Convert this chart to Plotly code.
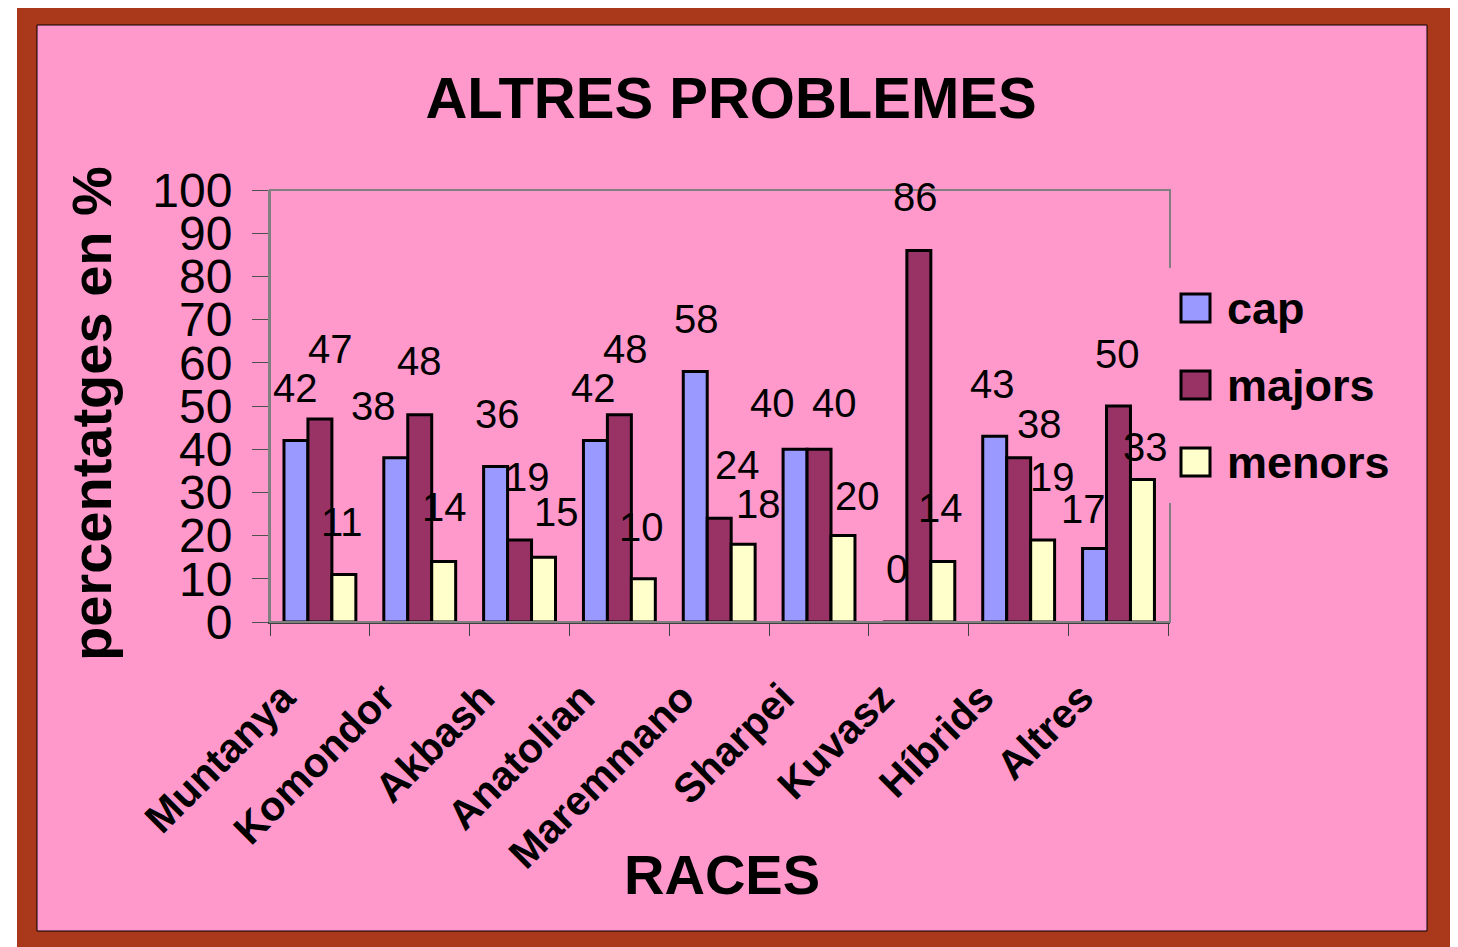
import plotly.graph_objects as go

# ---- data ----
categories = ["Muntanya", "Komondor", "Akbash", "Anatolian", "Maremmano",
              "Sharpei", "Kuvasz", "Híbrids", "Altres"]
series_names = ["cap", "majors", "menors"]
cap = [42, 38, 36, 42, 58, 40, 0, 43, 17]
majors = [47, 48, 19, 48, 24, 40, 86, 38, 50]
menors = [11, 14, 15, 10, 18, 20, 14, 19, 33]
y_ticks = [0, 10, 20, 30, 40, 50, 60, 70, 80, 90, 100]

series_values = [cap, majors, menors]
colors = ["#9999FF", "#993366", "#FFFFCC"]

# label nudges (pixels) reproducing the original hand-placed data labels
label_dx = [[0, -22, 2, -2, 1, -23, 2, -2, -11],
            [11, 0, 8, 6, 18, 15, -3, 21, -1],
            [-2, 1, 13, -2, 15, 14, -2, 10, 3]]
label_dy = [[53, 52, 52, 53, 52, 46, 53, 52, 40],
            [70, 54, 63, 66, 53, 46, 53, 34, 52],
            [52, 55, 45, 52, 40, 40, 54, 63, 32]]

# page offset (browser body margin) compensation
OFF = 8
W, H = 1458 - OFF, 947 - OFF
L, R, T, B = 270 - OFF, 1170 - OFF, 190 - OFF, 622 - OFF   # plot area in figure pixels


def px(x):
    """reference-image x pixel -> paper coordinate"""
    return (x - OFF - L) / (R - L)


def py(y):
    """reference-image y pixel -> paper coordinate"""
    return (B - (y - OFF)) / (B - T)


FONT = "Arial, Liberation Sans, sans-serif"

fig = go.Figure()
for name, vals, col in zip(series_names, series_values, colors):
    fig.add_trace(go.Bar(
        name=name, x=categories, y=vals,
        marker=dict(color=col, line=dict(color="black", width=3)),
        showlegend=False, hoverinfo="x+y+name",
    ))

# data labels
bar_px = 24
annotations = []
for i, vals in enumerate(series_values):
    for j, (c, v) in enumerate(zip(categories, vals)):
        annotations.append(dict(
            x=c, y=v, xref="x", yref="y", text=str(v), showarrow=False,
            xshift=(i - 1) * bar_px + label_dx[i][j], yshift=label_dy[i][j],
            yanchor="middle",
            font=dict(family=FONT, size=40, color="black"),
        ))

# axis titles
annotations.append(dict(
    x=px(722), y=py(874), xref="paper", yref="paper", text="<b>RACES</b>",
    showarrow=False, xanchor="center", yanchor="middle",
    font=dict(family=FONT, size=56, color="black"),
))
annotations.append(dict(
    x=px(91), y=py(414), xref="paper", yref="paper",
    text="<b>percentatges en %</b>", textangle=-90,
    showarrow=False, xanchor="center", yanchor="middle",
    font=dict(family=FONT, size=56, color="black"),
))

shapes = [
    # brown outer frame
    dict(type="rect", xref="paper", yref="paper", layer="below",
         x0=px(17), x1=px(1450), y0=py(960), y1=py(6),
         fillcolor="#A9391A", line=dict(width=0)),
    # pink chart area
    dict(type="rect", xref="paper", yref="paper", layer="below",
         x0=px(37), x1=px(1427), y0=py(931), y1=py(25),
         fillcolor="#FF99CC", line=dict(color="black", width=1)),
    # plot area border
    dict(type="rect", xref="x domain", yref="y domain", layer="above",
         x0=0, x1=1, y0=0, y1=1, line=dict(color="#808080", width=2)),
    # legend box
    dict(type="rect", xref="paper", yref="paper", layer="above",
         x0=px(1162), x1=px(1420), y0=py(503), y1=py(268),
         fillcolor="#FF99CC", line=dict(width=0)),
]

# manual legend (large symbols as in the original)
for i, (name, col) in enumerate(zip(series_names, colors)):
    cy = 308 + i * 77
    shapes.append(dict(type="rect", xref="paper", yref="paper", layer="above",
                       x0=px(1181), x1=px(1210), y0=py(cy + 14), y1=py(cy - 14),
                       fillcolor=col, line=dict(color="black", width=3)))
    annotations.append(dict(
        x=px(1225), y=py(cy), xref="paper", yref="paper", text=f"<b>{name}</b>",
        showarrow=False, xanchor="left", yanchor="middle",
        font=dict(family=FONT, size=45, color="black"),
    ))

fig.update_layout(
    width=W, height=H,
    margin=dict(l=L, r=W - R, t=T, b=H - B, pad=0, autoexpand=False),
    paper_bgcolor="white",
    plot_bgcolor="#C0C0C0",
    barmode="group", bargap=0.28, bargroupgap=0,
    title=dict(text="<b>ALTRES PROBLEMES</b>", x=px(731), xref="paper",
               y=1 - (98 - OFF) / H, yref="container",
               xanchor="center", yanchor="middle",
               font=dict(family=FONT, size=58, color="black")),
    showlegend=False,
    annotations=annotations,
    shapes=shapes,
    xaxis=dict(
        type="category", tickangle=-45, automargin=False,
        tickfont=dict(family=FONT, size=41, color="black", weight="bold"),
        ticks="outside", ticklen=12, tickcolor="#404040", tickwidth=1,
        tickson="boundaries",
        ticklabelshift=-37, ticklabelstandoff=33,
        showline=True, linecolor="#404040", linewidth=2,
        showgrid=False,
    ),
    yaxis=dict(
        range=[0, 100], tickvals=y_ticks, automargin=False,
        tickfont=dict(family=FONT, size=48, color="black"),
        ticks="outside", ticklen=16, tickcolor="#505050", tickwidth=1,
        showline=True, linecolor="#808080", linewidth=2,
        showgrid=True, gridcolor="#FF99CC", gridwidth=1,
        zeroline=False, ticklabelstandoff=10,
    ),
)

fig.write_html("out.html")
